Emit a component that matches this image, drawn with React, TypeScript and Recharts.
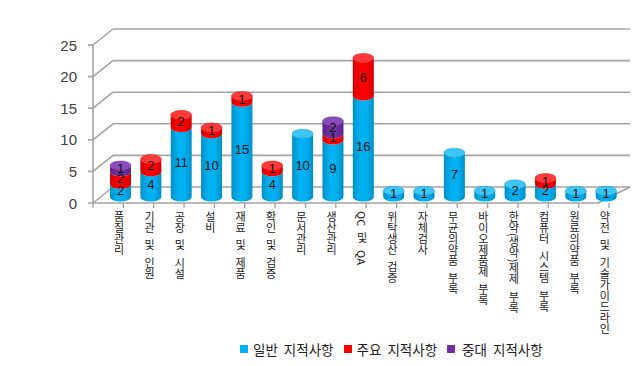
import React from "react"
import {
  BarChart,
  Bar,
  XAxis,
  YAxis,
  CartesianGrid,
  LabelList,
} from "recharts"

// data
const categories = [
  "품질관리",
  "기관 및 인원",
  "공장 및 시설",
  "설비",
  "재료 및 제품",
  "확인 및 검증",
  "문서관리",
  "생산관리",
  "QC 및 QA",
  "위탁생산 검증",
  "자체검사",
  "무균의약품 부록",
  "바이오제품제 부록",
  "한약(생약)제제 부록",
  "컴퓨터 시스템 부록",
  "원료의약품 부록",
  "약전 및 기술가이드라인",
]
const general = [2, 4, 11, 10, 15, 4, 10, 9, 16, 1, 1, 7, 1, 2, 2, 1, 1]
const major = [2, 2, 2, 1, 1, 1, 0, 1, 6, 0, 0, 0, 0, 0, 1, 0, 0]
const critical = [1, 0, 0, 0, 0, 0, 0, 2, 0, 0, 0, 0, 0, 0, 0, 0, 0]
const yTicks = [0, 5, 10, 15, 20, 25]

const seriesNames = ["일반 지적사항", "주요 지적사항", "중대 지적사항"]
const seriesKeys = ["general", "major", "critical"]
const seriesColors = ["#00B0F0", "#FF0000", "#7030A0"]
const capColors = ["#3cc6f6", "#ff3a3a", "#8a4cbc"]
const edgeColors = ["#0090c6", "#d00000", "#5a2386"]

const data = categories.map((name, i) => ({
  name,
  general: general[i],
  major: major[i],
  critical: critical[i],
}))

// 3D look: bars sit in the middle of the floor depth
const PLOT_TOP = 39
const PLOT_BOTTOM = 197
const FRONT_DX = 12
const FRONT_DY = 6
const BACK_DX = 8
const BACK_DY = 10
const GRID = "#a3a3a3"
const FONT = "'Liberation Sans', Arial, sans-serif"
const KFONT = "'Noto Sans CJK KR', 'Noto Sans', sans-serif"

function Cylinder(props: any) {
  const { x, y, width, height, payload, series } = props
  if (!height || height <= 0) return null
  const idx = seriesKeys.indexOf(series)
  let isTop = true
  for (let k = idx + 1; k < seriesKeys.length; k++) {
    if (payload[seriesKeys[k]] > 0) isTop = false
  }
  const rx = width / 2
  const ry = 4.5
  const cx = x + rx
  const gid = `cyl-${series}`
  const d = `M${x},${y + height} A${rx},${ry} 0 0 0 ${x + width},${y + height} L${x + width},${y} A${rx},${ry} 0 0 1 ${x},${y} Z`
  return (
    <g>
      <path d={d} fill={`url(#${gid})`} />
      {isTop && (
        <ellipse cx={cx} cy={y} rx={rx} ry={ry} fill={capColors[idx]} stroke={edgeColors[idx]} strokeWidth={0.4} />
      )}
    </g>
  )
}

function GridLine(props: any) {
  const { x1, x2, y1, index } = props
  const isBottom = Math.abs(y1 - PLOT_BOTTOM) < 1
  const isTop = Math.abs(y1 - PLOT_TOP) < 1
  const fl = x1 - FRONT_DX
  const fr = x2 - FRONT_DX - 11
  return (
    <g key={`g-${index}`}>
      <line x1={x1 + BACK_DX} y1={y1 - BACK_DY} x2={x2 + 9} y2={y1 - BACK_DY} stroke={GRID} strokeWidth={1.6} />
      <line x1={fl} y1={y1 + FRONT_DY} x2={x1 + BACK_DX} y2={y1 - BACK_DY} stroke={GRID} strokeWidth={1.6} />
      {isBottom && (
        <g>
          <line x1={fl} y1={y1 + FRONT_DY} x2={fr} y2={y1 + FRONT_DY} stroke={GRID} strokeWidth={1.6} />
          <line x1={fr} y1={y1 + FRONT_DY} x2={x2 + 9} y2={y1 - BACK_DY} stroke={GRID} strokeWidth={1.6} />
        </g>
      )}
      {isTop && (
        <line x1={fl} y1={y1 + FRONT_DY} x2={fl} y2={PLOT_BOTTOM + FRONT_DY} stroke={GRID} strokeWidth={1.6} />
      )}
    </g>
  )
}

function YTick(props: any) {
  const { y, payload } = props
  const fx = 105 - FRONT_DX
  return (
    <g>
      <line x1={fx - 5} y1={y + FRONT_DY} x2={fx} y2={y + FRONT_DY} stroke={GRID} strokeWidth={1.6} />
      <text x={77} y={y + FRONT_DY} textAnchor="end" dominantBaseline="central" fontSize={15} fontFamily={FONT} fill="#404040">
        {payload.value}
      </text>
    </g>
  )
}

function XTick(props: any) {
  const { x, payload, index } = props
  const half = 516 / categories.length / 2
  const fy = PLOT_BOTTOM + FRONT_DY
  const left = x - FRONT_DX - half
  const right = x - FRONT_DX + half
  return (
    <g>
      <line x1={left} y1={fy} x2={left} y2={fy + 5} stroke={GRID} strokeWidth={1.4} />
      {index === categories.length - 1 && (
        <line x1={right} y1={fy} x2={right} y2={fy + 5} stroke={GRID} strokeWidth={1.4} />
      )}
      <text
        x={x - 1}
        y={211}
        textAnchor="start"
        fontSize={11}
        fontFamily={KFONT}
        fill="#1a1a1a"
        style={{ writingMode: "vertical-rl", wordSpacing: "4px" }}
      >
        {payload.value}
      </text>
    </g>
  )
}

function LegendBox() {
  return (
    <div
      style={{
        position: "absolute",
        left: 240,
        top: 339,
        display: "flex",
        alignItems: "center",
        fontFamily: KFONT,
        fontSize: 13.5,
        wordSpacing: 3,
        color: "#222",
        whiteSpace: "nowrap",
      }}
    >
      {seriesNames.map((n, i) => (
        <div key={n} style={{ display: "flex", alignItems: "center", marginRight: 10 }}>
          <span style={{ width: 8, height: 8, background: seriesColors[i], marginRight: i === 2 ? 7 : 5, display: "inline-block" }} />
          <span>{n}</span>
        </div>
      ))}
    </div>
  )
}

export default function App() {
  return (
    <div style={{ position: "absolute", left: 0, top: 0, width: 640, height: 366, background: "#fff" }}>
      <BarChart
        width={640}
        height={366}
        data={data}
        margin={{ top: PLOT_TOP, right: 19, left: 0, bottom: 0 }}
        barSize={21}
      >
        <defs>
          {seriesKeys.map((k, i) => (
            <linearGradient key={k} id={`cyl-${k}`} x1="0" y1="0" x2="1" y2="0">
              <stop offset="0%" stopColor={edgeColors[i]} />
              <stop offset="35%" stopColor={seriesColors[i]} />
              <stop offset="65%" stopColor={seriesColors[i]} />
              <stop offset="100%" stopColor={edgeColors[i]} />
            </linearGradient>
          ))}
        </defs>
        <CartesianGrid vertical={false} horizontal={(p: any) => <GridLine {...p} />} />
        <XAxis
          dataKey="name"
          interval={0}
          height={366 - PLOT_BOTTOM}
          axisLine={false}
          tickLine={false}
          tick={(p: any) => <XTick {...p} />}
        />
        <YAxis
          width={105}
          domain={[0, 25]}
          ticks={yTicks}
          axisLine={false}
          tickLine={false}
          tick={(p: any) => <YTick {...p} />}
        />
        {seriesKeys.map((k, i) => (
          <Bar
            key={k}
            dataKey={k}
            name={seriesNames[i]}
            stackId="a"
            fill={seriesColors[i]}
            isAnimationActive={false}
            shape={(p: any) => <Cylinder {...p} series={k} />}
          >
            <LabelList
              dataKey={k}
              position="center"
              fill="#111"
              fontSize={13}
              fontFamily={FONT}
              formatter={(v: any) => (v ? v : "")}
            />
          </Bar>
        ))}
      </BarChart>
      <LegendBox />
    </div>
  )
}
